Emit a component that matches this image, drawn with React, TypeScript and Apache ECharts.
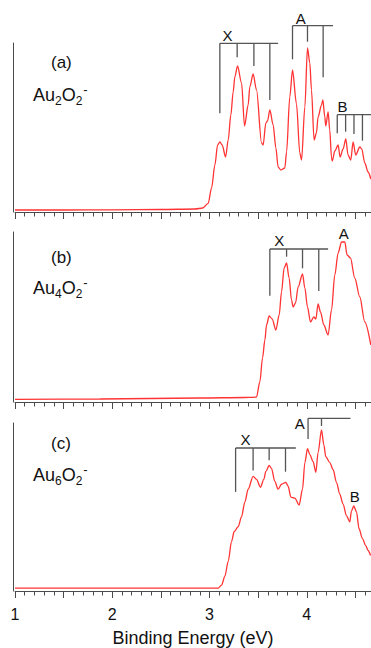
import React, { useEffect, useRef } from "react";
import * as echarts from "echarts";

// ---- Data (binding energy in eV, intensity in arbitrary units) ----
const energyA = [1.0, 1.5, 2.0, 2.5, 2.85, 2.93, 2.986, 3.021, 3.055, 3.083, 3.106, 3.13, 3.165, 3.192, 3.219, 3.243, 3.26, 3.288, 3.329, 3.36, 3.397, 3.414, 3.448, 3.483, 3.535, 3.551, 3.579, 3.596, 3.62, 3.654, 3.682, 3.705, 3.733, 3.774, 3.792, 3.825, 3.853, 3.894, 3.928, 3.946, 3.98, 4.007, 4.031, 4.048, 4.075, 4.099, 4.116, 4.151, 4.165, 4.185, 4.195, 4.219, 4.236, 4.254, 4.262, 4.288, 4.322, 4.342, 4.373, 4.401, 4.424, 4.452, 4.476, 4.503, 4.545, 4.565, 4.596, 4.63, 4.658];
const intensityA = [2, 2, 2.2, 2.5, 3, 4, 8.7, 24, 47, 67, 70, 67, 55, 72, 97, 120, 135, 146, 129, 86, 107, 125, 138, 122, 69, 67, 89, 91, 102, 87, 64, 45, 42, 44, 60, 115, 142, 108, 59, 52, 105, 164, 149, 122, 72, 79, 95, 107, 112, 95, 86, 100, 82, 54, 51, 61, 67, 55, 63, 73, 57, 52, 70, 57, 65, 63, 49, 40, 33];

const energyB = [1.0, 1.873, 2.901, 3.363, 3.448, 3.483, 3.517, 3.545, 3.569, 3.586, 3.613, 3.644, 3.682, 3.716, 3.74, 3.767, 3.792, 3.818, 3.843, 3.859, 3.884, 3.911, 3.956, 3.98, 4.007, 4.038, 4.072, 4.093, 4.116, 4.141, 4.175, 4.219, 4.254, 4.288, 4.322, 4.357, 4.391, 4.414, 4.449, 4.493, 4.545, 4.596, 4.658];
const intensityB = [2.7, 3, 4, 4.5, 4.7, 5, 20, 44, 62, 77, 86, 83, 72, 87, 110, 134, 139, 124, 102, 95, 99, 115, 128, 114, 95, 80, 85, 83, 98, 90, 77, 67, 92, 127, 149, 160, 160, 147, 144, 124, 105, 80, 57];

const energyC = [1.0, 1.873, 2.901, 3.089, 3.124, 3.158, 3.192, 3.226, 3.253, 3.294, 3.329, 3.363, 3.397, 3.448, 3.483, 3.524, 3.558, 3.579, 3.613, 3.637, 3.671, 3.705, 3.74, 3.784, 3.808, 3.836, 3.877, 3.921, 3.956, 3.98, 4.007, 4.031, 4.065, 4.093, 4.116, 4.151, 4.175, 4.195, 4.236, 4.27, 4.305, 4.339, 4.373, 4.408, 4.442, 4.459, 4.483, 4.511, 4.537, 4.572, 4.606, 4.63, 4.655];
const intensityC = [3, 3, 3, 3, 6, 15, 30, 50, 60, 65, 75, 90, 103, 116, 113, 105, 113, 121, 127, 124, 111, 103, 108, 110, 106, 95, 94, 87, 103, 130, 144, 138, 131, 120, 140, 163, 148, 136, 130, 123, 110, 98, 88, 76, 70, 81, 86, 80, 63, 53, 46, 41, 36];

// Panel vertical ranges (intensity units)
const panelMax = [169, 170, 170];

// Progression brackets: tick positions (eV), tick lower ends, bar level, bar end (eV)
const bracketsA = [
  { ticks: [3.106, 3.284, 3.456, 3.62], lows: [98.7, 154.7, 146, 112], bar: 168.7, end: 3.705 },
  { ticks: [3.853, 4.007, 4.168], lows: [152.7, 170.3, 134.7], bar: 186.3, end: 4.27 },
  { ticks: [4.313, 4.399, 4.485, 4.572], lows: [78.7, 80.3, 78, 71.3], bar: 97.3, end: 4.7 },
];
const bracketsB = [
  { ticks: [3.62, 3.792, 3.956, 4.123], lows: [106.3, 145.3, 133.7, 111], bar: 153, end: 4.219 },
];
const bracketsC = [
  { ticks: [3.268, 3.448, 3.613, 3.781], lows: [100.3, 122, 132.3, 120.7], bar: 144.7, end: 3.887 },
  { ticks: [4.013, 4.151], lows: [153.7, 167], bar: 174.7, end: 4.449 },
];

// Band labels: [energy, intensity, text]
const bandLabelsA = [[3.185, 177, "X"], [3.938, 193.7, "A"], [4.367, 105.3, "B"]];
const bandLabelsB = [[3.716, 162, "X"], [4.38, 168.7, "A"]];
const bandLabelsC = [[3.37, 153, "X"], [3.928, 169, "A"], [4.493, 95.7, "B"]];

const panelTags = ["(a)", "(b)", "(c)"];
const clusterSizes = ["2", "4", "6"];
const xTickLabels = [1, 2, 3, 4];
const X_MIN = 1;
const X_MAX = 4.66;

const FONT = "'Liberation Sans', Arial, Helvetica, sans-serif";
const AXIS_COLOR = "#4a4a4a";
const LINE_COLOR = "#ff3333";

function zip(xs: number[], ys: number[]) {
  return xs.map((x, i) => [x, ys[i]]);
}

function bracketSegments(brs: { ticks: number[]; lows: number[]; bar: number; end: number }[]) {
  const segs: number[][] = [];
  brs.forEach((b) => {
    segs.push([b.ticks[0], b.bar, b.end, b.bar]);
    b.ticks.forEach((t, i) => segs.push([t, b.lows[i], t, b.bar]));
  });
  return segs;
}

export default function App() {
  const ref = useRef<HTMLDivElement>(null);
  useEffect(() => {
    if (!ref.current) return;
    const chart = echarts.init(ref.current, undefined, { renderer: "svg" });
    const grids = [
      { left: 15, right: 0, top: 43, height: 169 },
      { left: 15, right: 0, top: 232, height: 170 },
      { left: 15, right: 0, top: 423, height: 170 },
    ];
    const curves = [zip(energyA, intensityA), zip(energyB, intensityB), zip(energyC, intensityC)];
    const brackets = [bracketsA, bracketsB, bracketsC];
    const bandLabels = [bandLabelsA, bandLabelsB, bandLabelsC];

    const xAxes: any[] = [];
    grids.forEach((_, i) => {
      // minor ticks every 0.1 eV
      xAxes.push({
        type: "value",
        gridIndex: i,
        position: "bottom",
        min: X_MIN,
        max: X_MAX,
        interval: 0.1,
        axisLine: { show: true, onZero: false, lineStyle: { color: AXIS_COLOR, width: 1 } },
        axisTick: { show: true, length: 4.5, lineStyle: { color: AXIS_COLOR, width: 1 } },
        splitLine: { show: false },
        axisLabel: { show: false },
      });
      // major ticks every 0.5 eV with labels at integers
      xAxes.push({
        type: "value",
        gridIndex: i,
        position: "bottom",
        min: X_MIN,
        max: X_MAX,
        interval: 0.5,
        axisLine: { show: false, onZero: false },
        axisTick: { show: true, length: 7, lineStyle: { color: AXIS_COLOR, width: 1 } },
        splitLine: { show: false },
        axisLabel: {
          show: i === 2,
          fontSize: 16,
          fontFamily: FONT,
          color: "#111",
          margin: 15,
          showMaxLabel: false,
          formatter: (v: number) => (xTickLabels.indexOf(v) >= 0 ? String(v) : ""),
        },
        name: i === 2 ? "Binding Energy (eV)" : "",
        nameLocation: "middle",
        nameGap: 38,
        nameTextStyle: { fontSize: 18, fontFamily: FONT, color: "#111" },
      });
    });
    const yAxes = grids.map((_, i) => ({
      type: "value",
      gridIndex: i,
      position: "left",
      min: 0,
      max: panelMax[i],
      offset: 2,
      axisLine: { show: true, onZero: false, lineStyle: { color: AXIS_COLOR, width: 1 } },
      axisTick: { show: false },
      axisLabel: { show: false },
      splitLine: { show: false },
    }));

    const series: any[] = [];
    curves.forEach((data, i) => {
      const xi = i * 2;
      series.push({
        type: "line",
        xAxisIndex: xi,
        yAxisIndex: i,
        data,
        showSymbol: false,
        symbol: "none",
        smooth: 0.3,
        smoothMonotone: "x",
        lineStyle: { color: LINE_COLOR, width: 1.3 },
        silent: true,
      });
      series.push({
        type: "custom",
        xAxisIndex: xi,
        yAxisIndex: i,
        data: bracketSegments(brackets[i]),
        encode: { x: [0, 2], y: [1, 3] },
        clip: false,
        silent: true,
        renderItem: (_p: any, api: any) => {
          const p1 = api.coord([api.value(0), api.value(1)]);
          const p2 = api.coord([api.value(2), api.value(3)]);
          return {
            type: "line",
            shape: { x1: p1[0], y1: p1[1], x2: p2[0], y2: p2[1] },
            style: { stroke: "#555", lineWidth: 1.3 },
          };
        },
      });
      series.push({
        type: "custom",
        xAxisIndex: xi,
        yAxisIndex: i,
        data: bandLabels[i],
        encode: { x: 0, y: 1 },
        clip: false,
        silent: true,
        renderItem: (_p: any, api: any) => {
          const p = api.coord([api.value(0), api.value(1)]);
          const idx = _p.dataIndex;
          return {
            type: "text",
            x: p[0],
            y: p[1],
            style: {
              text: String(bandLabels[i][idx][2]),
              fontSize: 15,
              fontFamily: FONT,
              fill: "#111",
              align: "center",
              verticalAlign: "middle",
            },
          };
        },
      });
    });

    const tagY = [62.5, 257, 443.5];
    const formulaY = [95, 288.3, 475];
    const graphic: any[] = [];
    panelTags.forEach((t, i) => {
      graphic.push({
        type: "text",
        x: 51,
        y: tagY[i],
        style: {
          text: t,
          fontSize: 17,
          fontFamily: FONT,
          fill: "#111",
          align: "left",
          verticalAlign: "middle",
        },
      });
      graphic.push({
        type: "text",
        x: 33,
        y: formulaY[i],
        style: {
          text: `{m|Au}{s|${clusterSizes[i]}}{m|O}{s|2}{p|-}`,
          fontFamily: FONT,
          fill: "#111",
          align: "left",
          verticalAlign: "middle",
          rich: {
            m: { fontSize: 18, lineHeight: 24, fontFamily: FONT, color: "#111" },
            s: { fontSize: 12, lineHeight: 12, verticalAlign: "bottom", fontFamily: FONT, color: "#111" },
            p: { fontSize: 13, lineHeight: 6, verticalAlign: "top", fontFamily: FONT, color: "#111", padding: [0, 0, 0, 1] },
          },
        },
      });
    });

    chart.setOption({
      animation: false,
      backgroundColor: "#fff",
      textStyle: { fontFamily: FONT },
      grid: grids,
      xAxis: xAxes,
      yAxis: yAxes,
      series,
      graphic,
    });
    return () => chart.dispose();
  }, []);
  return (
    <div
      ref={ref}
      style={{ position: "absolute", left: 0, top: 0, width: 371, height: 648, background: "#fff" }}
    />
  );
}
